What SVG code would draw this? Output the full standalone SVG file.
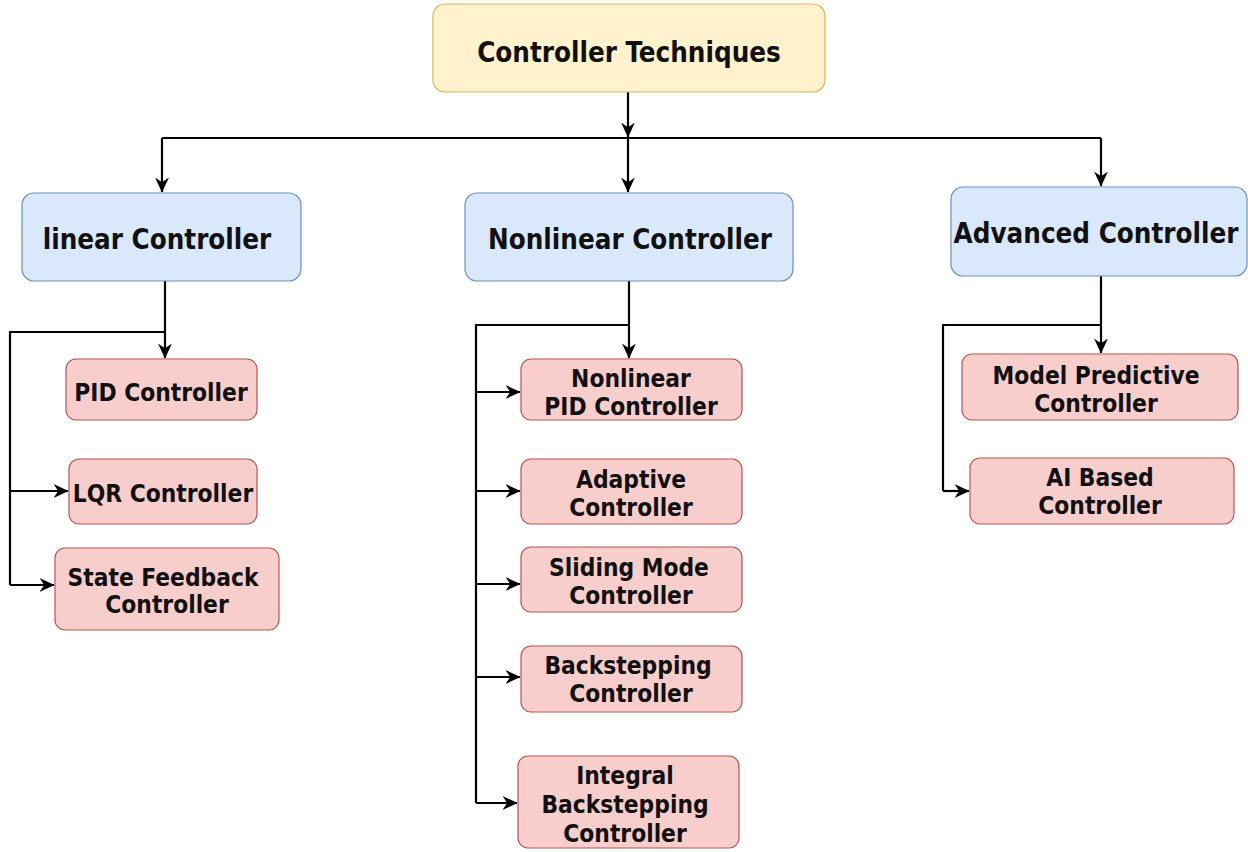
<svg xmlns="http://www.w3.org/2000/svg" width="1248" height="852" viewBox="0 0 1248 852">
  <style>
    .lbl { font-family: "DejaVu Sans Condensed", "DejaVu Sans", Verdana, sans-serif; font-stretch: condensed; font-weight: bold; fill: #111; text-anchor: middle; }
    .big { font-size: 27.5px; }
    .sm { font-size: 24.3px; }
    .root { fill: #fff2cc; stroke: #d6b656; stroke-width: 1.2; }
    .cat { fill: #dae8fc; stroke: #6c8ebf; stroke-width: 1.2; }
    .leaf { fill: #f8cecc; stroke: #b85450; stroke-width: 1.2; }
    .wire { fill: none; stroke: #000; stroke-width: 2.2; }
  </style>
  <defs>
    <!-- filled, slightly notched arrowhead -->
    <marker id="arr" viewBox="0 0 13 12" refX="12.5" refY="6" markerWidth="15" markerHeight="14" orient="auto" markerUnits="userSpaceOnUse">
      <path d="M0,0 L13,6 L0,12 L4,6 Z" fill="#000"/>
    </marker>
  </defs>
  <rect width="1248" height="852" fill="#fff"/>

  <g id="connectors">
    <!-- root to category bus -->
    <path class="wire" d="M628,92 V137" marker-end="url(#arr)"/>
    <path class="wire" d="M162,138 H1101"/>
    <path class="wire" d="M162,138 V192" marker-end="url(#arr)"/>
    <path class="wire" d="M628,138 V192" marker-end="url(#arr)"/>
    <path class="wire" d="M1101,138 V186" marker-end="url(#arr)"/>
    <!-- linear branch -->
    <path class="wire" d="M165,281 V358" marker-end="url(#arr)"/>
    <path class="wire" d="M165,332 H10 V585"/>
    <path class="wire" d="M10,491 H68" marker-end="url(#arr)"/>
    <path class="wire" d="M10,585 H54" marker-end="url(#arr)"/>
    <!-- nonlinear branch -->
    <path class="wire" d="M629,281 V358" marker-end="url(#arr)"/>
    <path class="wire" d="M629,325 H476 V803"/>
    <path class="wire" d="M476,392 H520" marker-end="url(#arr)"/>
    <path class="wire" d="M476,491 H520" marker-end="url(#arr)"/>
    <path class="wire" d="M476,584 H520" marker-end="url(#arr)"/>
    <path class="wire" d="M476,677 H520" marker-end="url(#arr)"/>
    <path class="wire" d="M476,803 H517" marker-end="url(#arr)"/>
    <!-- advanced branch -->
    <path class="wire" d="M1101,276 V353" marker-end="url(#arr)"/>
    <path class="wire" d="M1101,325 H943 V491"/>
    <path class="wire" d="M943,491 H969" marker-end="url(#arr)"/>
  </g>

  <g id="n-root">
    <rect class="root" x="433" y="4" width="392" height="88" rx="12"/>
    <text class="lbl big" x="629" y="62">Controller Techniques</text>
  </g>

  <g id="n-linear">
    <rect class="cat" x="22" y="193" width="279" height="88" rx="12"/>
    <text class="lbl big" x="157" y="249">linear Controller</text>
  </g>
  <g id="n-nonlinear">
    <rect class="cat" x="465" y="193" width="328" height="88" rx="12"/>
    <text class="lbl big" x="630" y="249">Nonlinear Controller</text>
  </g>
  <g id="n-advanced">
    <rect class="cat" x="951" y="187" width="296" height="89" rx="12"/>
    <text class="lbl big" x="1096" y="243">Advanced Controller</text>
  </g>

  <g id="n-pid">
    <rect class="leaf" x="66" y="359" width="191" height="61" rx="10"/>
    <text class="lbl sm" x="161" y="401">PID Controller</text>
  </g>
  <g id="n-lqr">
    <rect class="leaf" x="69" y="459" width="188" height="65" rx="10"/>
    <text class="lbl sm" x="163" y="502">LQR Controller</text>
  </g>
  <g id="n-sfb">
    <rect class="leaf" x="55" y="548" width="224" height="82" rx="10"/>
    <text class="lbl sm" x="163" y="586">State Feedback</text>
    <text class="lbl sm" x="167" y="613">Controller</text>
  </g>

  <g id="n-npid">
    <rect class="leaf" x="521" y="359" width="221" height="61" rx="10"/>
    <text class="lbl sm" x="631" y="387">Nonlinear</text>
    <text class="lbl sm" x="631" y="415">PID Controller</text>
  </g>
  <g id="n-adaptive">
    <rect class="leaf" x="521" y="459" width="221" height="65" rx="10"/>
    <text class="lbl sm" x="631" y="488">Adaptive</text>
    <text class="lbl sm" x="631" y="516">Controller</text>
  </g>
  <g id="n-smc">
    <rect class="leaf" x="521" y="547" width="221" height="65" rx="10"/>
    <text class="lbl sm" x="629" y="576">Sliding Mode</text>
    <text class="lbl sm" x="631" y="604">Controller</text>
  </g>
  <g id="n-backstep">
    <rect class="leaf" x="521" y="646" width="221" height="66" rx="10"/>
    <text class="lbl sm" x="628" y="674">Backstepping</text>
    <text class="lbl sm" x="631" y="702">Controller</text>
  </g>
  <g id="n-ibs">
    <rect class="leaf" x="518" y="756" width="221" height="92" rx="10"/>
    <text class="lbl sm" x="625" y="784">Integral</text>
    <text class="lbl sm" x="625" y="813">Backstepping</text>
    <text class="lbl sm" x="625" y="842">Controller</text>
  </g>

  <g id="n-mpc">
    <rect class="leaf" x="962" y="354" width="276" height="66" rx="10"/>
    <text class="lbl sm" x="1096" y="384">Model Predictive</text>
    <text class="lbl sm" x="1096" y="412">Controller</text>
  </g>
  <g id="n-ai">
    <rect class="leaf" x="970" y="458" width="264" height="66" rx="10"/>
    <text class="lbl sm" x="1100" y="486">AI Based</text>
    <text class="lbl sm" x="1100" y="514">Controller</text>
  </g>
</svg>
